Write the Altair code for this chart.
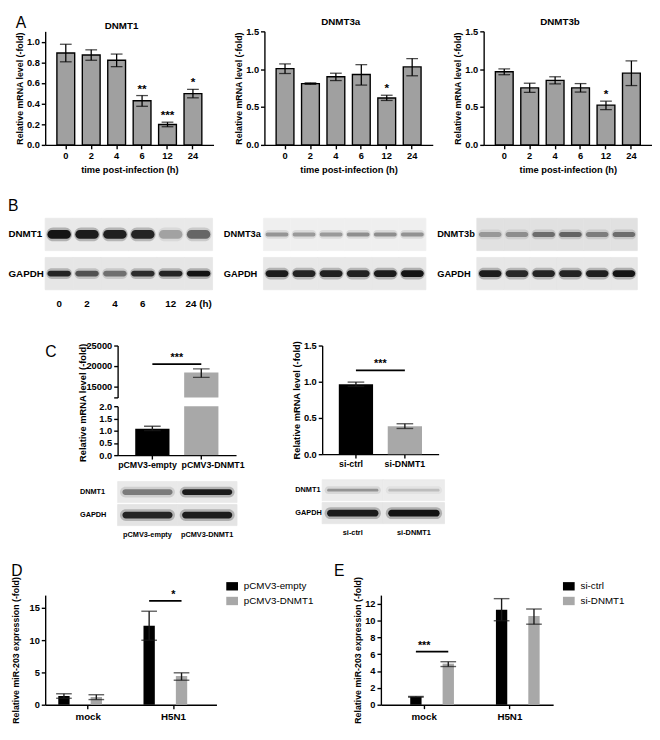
import altair as alt
import pandas as pd

FONT = "Liberation Sans"
BLACK = "#000000"
GRAY_A = "#a0a0a0"
GRAY = "#a8a8a8"
ERR = "#1a1a1a"

# ---------------- Panel A data ----------------
times = ["0", "2", "4", "6", "12", "24"]
dnmt1_mean = [0.89, 0.871, 0.82, 0.428, 0.198, 0.497]
dnmt1_lo = [0.805, 0.82, 0.758, 0.374, 0.176, 0.456]
dnmt1_hi = [0.975, 0.921, 0.88, 0.478, 0.22, 0.538]
dnmt1_sig = ["", "", "", "**", "***", "*"]

dnmt3a_mean = [1.007, 0.81, 0.90, 0.93, 0.62, 1.03]
dnmt3a_lo = [0.943, 0.80, 0.85, 0.79, 0.587, 0.913]
dnmt3a_hi = [1.07, 0.82, 0.947, 1.06, 0.656, 1.14]
dnmt3a_sig = ["", "", "", "", "*", ""]

dnmt3b_mean = [0.966, 0.754, 0.853, 0.754, 0.526, 0.948]
dnmt3b_lo = [0.927, 0.694, 0.806, 0.698, 0.466, 0.784]
dnmt3b_hi = [1.004, 0.815, 0.90, 0.81, 0.578, 1.11]
dnmt3b_sig = ["", "", "", "", "*", ""]

# ---------------- Panel B data (band intensities) ----------------
lane_labels = ["0", "2", "4", "6", "12", "24 (h)"]
b1_rows = ["DNMT1", "GAPDH"]
b1_dnmt1 = [1.0, 0.95, 0.92, 0.9, 0.28, 0.55]
b1_gapdh = [0.9, 0.65, 0.5, 0.85, 0.9, 1.0]
b2_rows = ["DNMT3a", "GAPDH"]
b2_dnmt3a = [0.35, 0.33, 0.33, 0.38, 0.38, 0.36]
b2_gapdh = [0.95, 0.9, 0.92, 0.92, 0.95, 1.0]
b3_rows = ["DNMT3b", "GAPDH"]
b3_dnmt3b = [0.3, 0.35, 0.5, 0.55, 0.42, 0.5]
b3_gapdh = [0.95, 0.88, 0.9, 0.9, 0.92, 1.0]

# ---------------- Panel C data ----------------
oe_groups = ["pCMV3-empty", "pCMV3-DNMT1"]
oe_mean = [1.08, 18400]
oe_lo = [1.0, 17200]
oe_hi = [1.18, 19300]
oe_sig_level = 20470

kd_groups = ["si-ctrl", "si-DNMT1"]
kd_mean = [0.965, 0.387]
kd_lo = [0.935, 0.355]
kd_hi = [0.995, 0.42]
kd_sig_level = 1.157

blot_rows = ["DNMT1", "GAPDH"]
oe_blot_dnmt1 = [0.45, 0.95]
oe_blot_gapdh = [0.9, 0.95]
kd_blot_dnmt1 = [0.35, 0.18]
kd_blot_gapdh = [0.95, 1.0]

# ---------------- Panels D / E data ----------------
infect = ["mock", "H5N1"]
d_series = ["pCMV3-empty", "pCMV3-DNMT1"]
d_empty_mean = [1.35, 12.25]
d_empty_lo = [1.0, 10.0]
d_empty_hi = [1.7, 14.5]
d_dnmt1_mean = [1.2, 4.45]
d_dnmt1_lo = [0.8, 3.8]
d_dnmt1_hi = [1.55, 4.95]
d_sig_level = 16.1

e_series = ["si-ctrl", "si-DNMT1"]
e_ctrl_mean = [0.94, 11.27]
e_ctrl_lo = [0.9, 9.96]
e_ctrl_hi = [0.98, 12.58]
e_kd_mean = [4.87, 10.52]
e_kd_lo = [4.53, 9.55]
e_kd_hi = [5.1, 11.35]
e_sig_level = 6.3

LETTER = dict(fontSize=16, fontWeight="normal", font=FONT)


def two_tone(field, first):
    return alt.condition(alt.datum[field] == first, alt.value(BLACK), alt.value(GRAY))


def empty_cell(width, title=None):
    c = alt.Chart(pd.DataFrame({"v": [0]})).mark_point(opacity=0).encode(
        x=alt.X("v:Q", axis=None), y=alt.Y("v:Q", axis=None))
    props = dict(width=width, height=1)
    if title is not None:
        props["title"] = title
    return c.properties(**props)


def time_panel(name, mean, lo, hi, sig, ymax, ticks):
    df = pd.DataFrame({"time": times, "mean": mean, "lo": lo, "hi": hi, "sig": sig})
    ysc = alt.Scale(domain=[0, ymax], nice=False)
    yax = alt.Axis(values=ticks, format=".1f", title="Relative mRNA level (-fold)",
                   titleFontSize=9, titlePadding=2)

    def Y(f):
        return alt.Y(f + ":Q", scale=ysc, axis=yax)

    base = alt.Chart(df).encode(
        x=alt.X("time:N", sort=times,
                scale=alt.Scale(paddingInner=0.3, paddingOuter=0.46),
                axis=alt.Axis(title="time post-infection (h)", labelAngle=0, titlePadding=5)))
    bars = base.mark_bar(color=GRAY_A, stroke=BLACK, strokeWidth=1.4).encode(y=Y("mean"))
    rule = base.mark_rule(color=BLACK, strokeWidth=1.3).encode(y=Y("lo"), y2="hi:Q")
    cap_lo = base.mark_tick(color=BLACK, thickness=1.3, size=12).encode(y=Y("lo"))
    cap_hi = base.mark_tick(color=BLACK, thickness=1.3, size=12).encode(y=Y("hi"))
    stars = base.mark_text(fontSize=12, fontWeight="bold", baseline="alphabetic", dy=-3,
                           color=BLACK).encode(y=Y("hi"), text="sig:N")
    return alt.layer(bars, rule, cap_lo, cap_hi, stars).properties(
        width=172, height=116,
        title=alt.TitleParams(name, fontSize=10, offset=0, frame="group", dx=-8))


def blot(lanes, rows, intens, bgs, heights, width, height, pad_inner, pad_outer, lane_axis,
         label_pad, label_size, title=None):
    recs = []
    for r, vals in zip(rows, intens):
        for l, v in zip(lanes, vals):
            recs.append({"lane": l, "row": r, "inten": v})
    df = pd.DataFrame(recs)
    x = alt.X("lane:N", sort=lanes, scale=alt.Scale(paddingInner=0, paddingOuter=0), axis=lane_axis)
    y = alt.Y("row:N", sort=rows,
              scale=alt.Scale(paddingInner=pad_inner, paddingOuter=pad_outer, align=1),
              axis=alt.Axis(title=None, ticks=False, domain=False, labelPadding=label_pad,
                            labelAlign="left", labelFontSize=label_size))
    layers = []
    for r, bgc in zip(rows, bgs):
        layers.append(alt.Chart(df).transform_filter(alt.datum.row == r).mark_rect(
            color=bgc, stroke=bgc, strokeWidth=0.8).encode(x=x, y=y))
    for r, h in zip(rows, heights):
        sub = alt.Chart(df).transform_filter(alt.datum.row == r)
        halo = sub.transform_calculate(hop="datum.inten*0.28").mark_rect(
            width=alt.RelativeBandSize(0.92), height=h + 5, cornerRadius=(h + 5) / 2,
            color="#222222").encode(x=x, y=y, opacity=alt.Opacity("hop:Q", scale=None))
        core = sub.mark_rect(
            width=alt.RelativeBandSize(0.84), height=h, cornerRadius=h / 2,
            color="#141414").encode(x=x, y=y, opacity=alt.Opacity("inten:Q", scale=None))
        layers += [halo, core]
    props = dict(width=width, height=height)
    if title is not None:
        props["title"] = title
    return alt.layer(*layers).properties(**props)


# ---------------- Row A ----------------
A1 = time_panel("DNMT1", dnmt1_mean, dnmt1_lo, dnmt1_hi, dnmt1_sig, 1.1, [0, 0.2, 0.4, 0.6, 0.8, 1.0])
A2 = time_panel("DNMT3a", dnmt3a_mean, dnmt3a_lo, dnmt3a_hi, dnmt3a_sig, 1.5, [0, 0.5, 1.0, 1.5])
A3 = time_panel("DNMT3b", dnmt3b_mean, dnmt3b_lo, dnmt3b_hi, dnmt3b_sig, 1.5, [0, 0.5, 1.0, 1.5])
rowA = alt.hconcat(A1, A2, A3, spacing=21).properties(
    title=alt.TitleParams("A", anchor="start", offset=-15, **LETTER))

# ---------------- Row B ----------------
lane_ax = alt.Axis(title=None, domain=False, ticks=False, labelAngle=0, labelPadding=9,
                   labelFontSize=10)
B1 = blot(lane_labels, b1_rows, [b1_dnmt1, b1_gapdh], ["#e9e9e9", "#e6e6e6"], [9, 6],
          171, 73, 0.175, 0, lane_ax, 38, 10,
          alt.TitleParams("B", anchor="start", offset=4, **LETTER))
B2 = blot(lane_labels, b2_rows, [b2_dnmt3a, b2_gapdh], ["#efefef", "#e8e8e8"], [4, 7],
          166, 73, 0.175, 0, None, 41, 9.5)
B3 = blot(lane_labels, b3_rows, [b3_dnmt3b, b3_gapdh], ["#e1e1e1", "#e7e7e7"], [5, 7],
          164, 73, 0.175, 0, None, 41, 9.5)
rowB = alt.hconcat(B1, B2, B3, spacing=52, bounds="flush")

# ---------------- Row C ----------------
oe_df = pd.DataFrame({"grp": oe_groups, "mean": oe_mean, "lo": oe_lo, "hi": oe_hi})
# transparent title: reserves the same headroom as the visible panel letter
HEADROOM = alt.TitleParams("C", anchor="start", offset=-8, color="rgba(0,0,0,0)", **LETTER)


def oe_part(domain, ticks, fmt, height, show_x, ytitle, title=None):
    ysc = alt.Scale(domain=domain, nice=False, zero=False)
    if ytitle:
        yax = alt.Axis(values=ticks, format=fmt, title="Relative mRNA level (-fold)",
                       titleY=-4, titlePadding=12)
    else:
        yax = alt.Axis(values=ticks, format=fmt, title=None,
                       labelExpr="datum.value < 14000 ? '' : datum.label")

    def Y(f):
        return alt.Y(f + ":Q", scale=ysc, axis=yax)

    if show_x:
        xax = alt.Axis(title=None, labelAngle=0, labelPadding=2, labelFontSize=9,
                       labelOffset={"condition": {"test": "datum.index === 0", "value": -5},
                                    "value": 12})
    else:
        xax = None
    x = alt.X("grp:N", sort=oe_groups, scale=alt.Scale(paddingInner=0.3, paddingOuter=0.36), axis=xax)
    base = alt.Chart(oe_df).encode(x=x)
    bars = base.mark_bar(clip=True).encode(y=Y("mean"), color=two_tone("grp", oe_groups[0]))
    rule = base.mark_rule(color=ERR, strokeWidth=1.4, clip=True).encode(y=Y("lo"), y2="hi:Q")
    c1 = base.mark_tick(color=ERR, thickness=1.4, size=17, clip=True).encode(y=Y("lo"))
    c2 = base.mark_tick(color=ERR, thickness=1.4, size=17, clip=True).encode(y=Y("hi"))
    layers = [bars, rule, c1, c2]
    if not show_x:
        sig_df = pd.DataFrame({"grp": oe_groups, "lvl": [oe_sig_level] * 2, "txt": ["***", ""]})
        line = alt.Chart(sig_df).mark_line(color=BLACK, strokeWidth=1.8).encode(x=x, y=Y("lvl"))
        txt = alt.Chart(sig_df).mark_text(fontSize=11, fontWeight="bold", baseline="alphabetic",
                                          dy=-3, dx=25, color=BLACK).encode(x=x, y=Y("lvl"), text="txt:N")
        layers += [line, txt]
    props = dict(width=121, height=height)
    if title is not None:
        props["title"] = title
    return alt.layer(*layers).properties(**props)


CL_up = oe_part([12300, 25000], [12300, 15000, 20000, 25000], "d", 53, False, False, HEADROOM)
CL_lo = oe_part([0, 2], [0, 0.5, 1.0, 1.5, 2.0], ".1f", 50, True, True)

kd_df = pd.DataFrame({"grp": kd_groups, "mean": kd_mean, "lo": kd_lo, "hi": kd_hi})
kd_ysc = alt.Scale(domain=[0, 1.5], nice=False)
kd_yax = alt.Axis(values=[0, 0.5, 1.0, 1.5], format=".1f", title="Relative mRNA level (-fold)")


def KY(f):
    return alt.Y(f + ":Q", scale=kd_ysc, axis=kd_yax)


kd_x = alt.X("grp:N", sort=kd_groups, scale=alt.Scale(paddingInner=0.3, paddingOuter=0.34),
             axis=alt.Axis(title=None, labelAngle=0, labelPadding=2, labelFontSize=9,
                           labelOffset={"condition": {"test": "datum.index === 0", "value": -5},
                                        "value": 0}))
kbase = alt.Chart(kd_df).encode(x=kd_x)
kd_sig = pd.DataFrame({"grp": kd_groups, "lvl": [kd_sig_level] * 2, "txt": ["***", ""]})
CR = alt.layer(
    kbase.mark_bar().encode(y=KY("mean"), color=two_tone("grp", kd_groups[0])),
    kbase.mark_rule(color=ERR, strokeWidth=1.4).encode(y=KY("lo"), y2="hi:Q"),
    kbase.mark_tick(color=ERR, thickness=1.4, size=17).encode(y=KY("lo")),
    kbase.mark_tick(color=ERR, thickness=1.4, size=17).encode(y=KY("hi")),
    alt.Chart(kd_sig).mark_line(color=BLACK, strokeWidth=1.8).encode(x=kd_x, y=KY("lvl")),
    alt.Chart(kd_sig).mark_text(fontSize=11, fontWeight="bold", baseline="alphabetic", dy=-3,
                                dx=25, color=BLACK).encode(x=kd_x, y=KY("lvl"), text="txt:N"),
).properties(width=119, height=111, title=HEADROOM)

small_lane_ax = alt.Axis(title=None, domain=False, ticks=False, labelAngle=0, labelPadding=5,
                         labelFontSize=7.5)
BL = blot(oe_groups, blot_rows, [oe_blot_dnmt1, oe_blot_gapdh], ["#e9e9e9", "#e4e4e4"], [6, 7],
          122, 63, 0.085, 0.383, small_lane_ax, 39, 7.5)
BR = blot(kd_groups, blot_rows, [kd_blot_dnmt1, kd_blot_gapdh], ["#ececec", "#e6e6e6"], [3, 7],
          125, 62, 0.085, 0.362, small_lane_ax, 28, 7.5)

c_letter_cell = empty_cell(10, alt.TitleParams("C", anchor="start", offset=-17, **LETTER))
c_gap = empty_cell(7)

leftC = alt.vconcat(CL_up, CL_lo, BL, spacing=9, bounds="flush")
rightC = alt.vconcat(CR, BR, spacing=9, bounds="flush")
rowC = alt.hconcat(c_letter_cell, leftC, c_gap, rightC, spacing=20)


# ---------------- Row D / E ----------------
def grouped(series, s1m, s1l, s1h, s2m, s2l, s2h, ymax, ticks, sig_group, sig_level, sig_text,
            W, H, lx, ly, title, ytitle_pad):
    df = pd.DataFrame({
        "grp": infect * 2,
        "series": [series[0]] * 2 + [series[1]] * 2,
        "mean": s1m + s2m, "lo": s1l + s2l, "hi": s1h + s2h})
    x = alt.X("grp:N", sort=infect, scale=alt.Scale(paddingInner=0.24, paddingOuter=0.125),
              axis=alt.Axis(title=None, labelAngle=0, labelFontSize=10, labelPadding=3))
    xo = alt.XOffset("series:N", sort=series, scale=alt.Scale(paddingInner=0.3, paddingOuter=0.15))
    ysc = alt.Scale(domain=[0, ymax], nice=False)
    yax = alt.Axis(values=ticks, format="d", title="Relative miR-203 expression (-fold)",
                   titleFontSize=9, titlePadding=ytitle_pad)

    def Y(f):
        return alt.Y(f + ":Q", scale=ysc, axis=yax)

    base = alt.Chart(df).encode(x=x, xOffset=xo)
    bars = base.mark_bar().encode(
        y=Y("mean"),
        color=alt.Color("series:N", sort=series, scale=alt.Scale(domain=series, range=[BLACK, GRAY]),
                        legend=alt.Legend(title=None, orient="none", legendX=lx, legendY=ly,
                                          symbolType="M-1.4,-1H1.4V1H-1.4Z", symbolSize=73,
                                          symbolStrokeWidth=0, labelFontSize=10,
                                          labelFontWeight="normal", labelColor=BLACK,
                                          labelOffset=7, rowPadding=5, padding=0)))
    rule = base.mark_rule(color=ERR, strokeWidth=1.4).encode(y=Y("lo"), y2="hi:Q")
    c1 = base.mark_tick(color=ERR, thickness=1.4, size=16).encode(y=Y("lo"))
    c2 = base.mark_tick(color=ERR, thickness=1.4, size=16).encode(y=Y("hi"))
    sig_df = pd.DataFrame({"grp": [sig_group] * 2, "series": series, "lvl": [sig_level] * 2,
                           "txt": [sig_text, ""]})
    line = alt.Chart(sig_df).mark_line(color=BLACK, strokeWidth=1.8).encode(x=x, xOffset=xo, y=Y("lvl"))
    txt = alt.Chart(sig_df).transform_filter(alt.datum.txt != "").mark_text(
        fontSize=11, fontWeight="bold", baseline="alphabetic", dy=-3, color=BLACK).encode(
        x=x, y=Y("lvl"), text="txt:N")
    return alt.layer(bars, rule, c1, c2, line, txt).properties(width=W, height=H, title=title)


D = grouped(d_series, d_empty_mean, d_empty_lo, d_empty_hi, d_dnmt1_mean, d_dnmt1_lo, d_dnmt1_hi,
            17, [0, 5, 10, 15], "H5N1", d_sig_level, "*", 175, 112, 186, -14,
            alt.TitleParams("D", anchor="start", offset=-2, **LETTER), 9)
E = grouped(e_series, e_ctrl_mean, e_ctrl_lo, e_ctrl_hi, e_kd_mean, e_kd_lo, e_kd_hi,
            13, [0, 2, 4, 6, 8, 10, 12], "mock", e_sig_level, "***", 176, 112, 187, -14,
            alt.TitleParams("E", anchor="start", frame="group", dx=-48, offset=-2, **LETTER), 2)
rowDE = alt.hconcat(D, E, spacing=168, bounds="flush").resolve_scale(color="independent")

chart = alt.vconcat(rowA, rowB, rowC, rowDE, spacing=24).resolve_scale(
    color="independent"
).properties(padding=0).configure(
    font=FONT
).configure_view(stroke=None).configure_axis(
    domainColor=BLACK, domainWidth=1.4, tickColor=BLACK, tickWidth=1.4, tickSize=4,
    labelFont=FONT, labelFontSize=9.5, labelFontWeight="bold", labelColor=BLACK,
    titleFont=FONT, titleFontSize=9.5, titleFontWeight="bold", titleColor=BLACK,
    grid=False, labelPadding=2, titlePadding=2
).configure_title(
    font=FONT, fontSize=10, fontWeight="bold", color=BLACK
).configure_legend(labelFont=FONT)

chart.save("out.html", embed_options={"renderer": "svg", "actions": False})
